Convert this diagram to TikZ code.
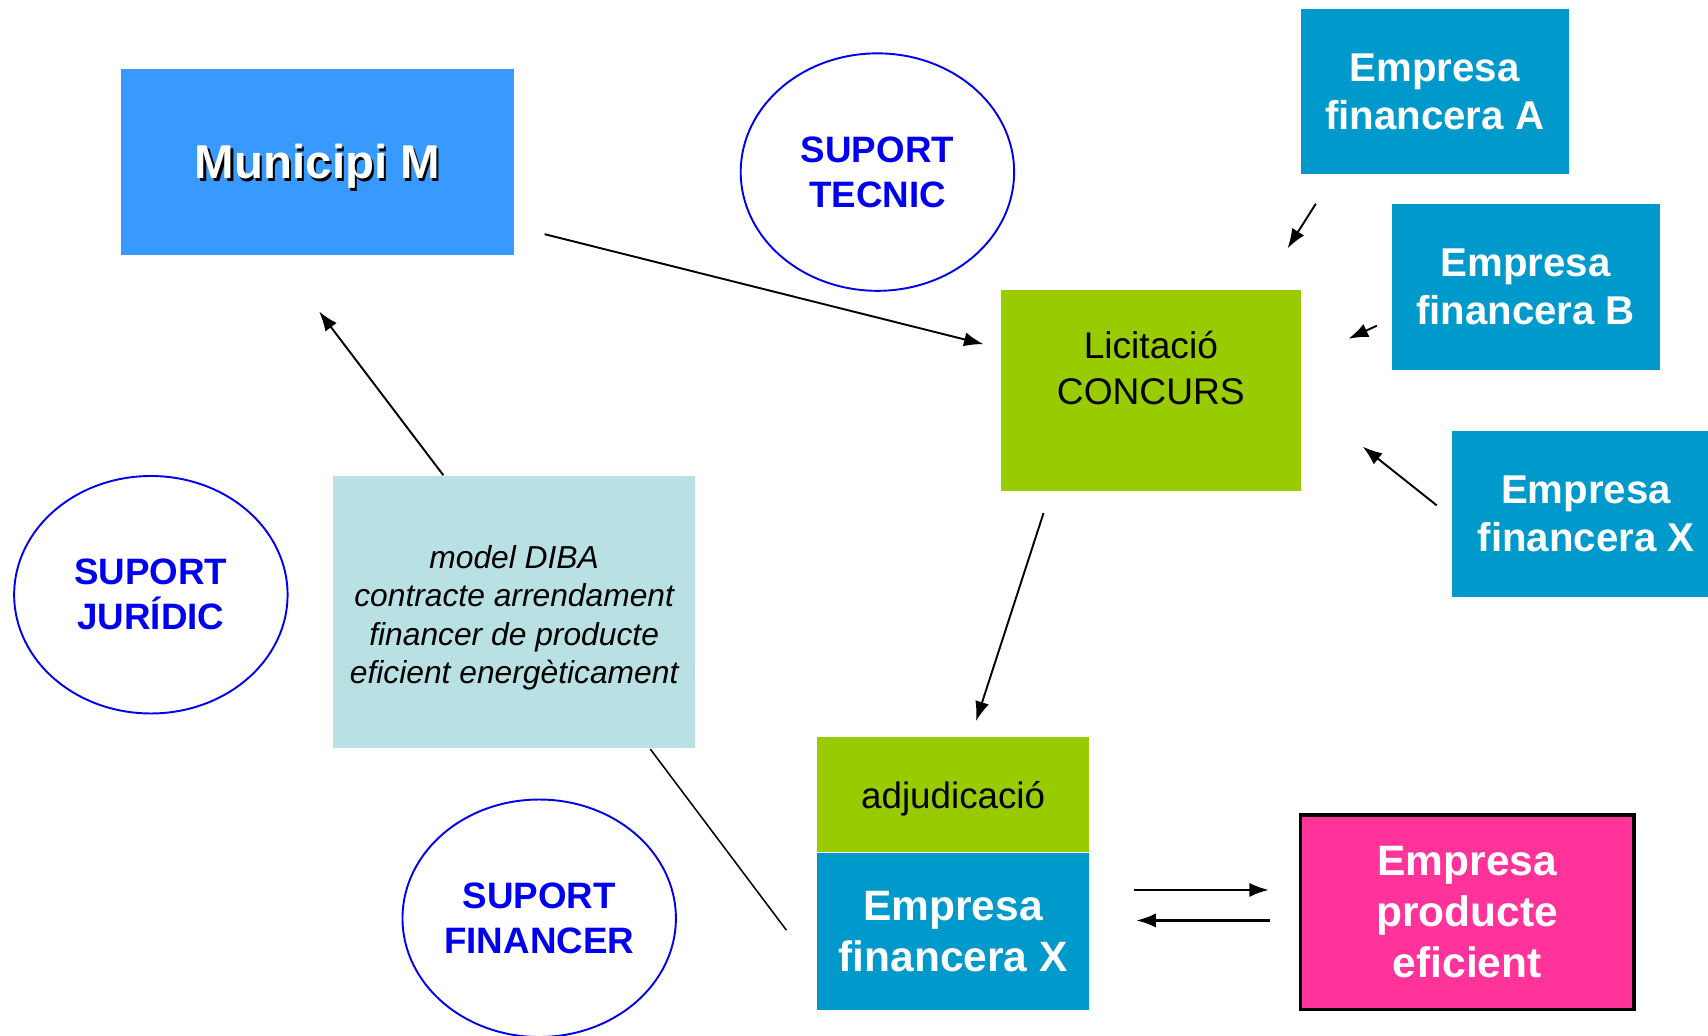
\documentclass[tikz,border=0pt]{standalone}
\usepackage{fontspec}
\setmainfont{Liberation Sans}
\usepackage{xcolor}
\usepackage{tikz}
\usetikzlibrary{shapes,arrows,positioning,calc,arrows.meta}

\definecolor{municipiblue}{RGB}{56,153,255}
\definecolor{empresablue}{RGB}{0,153,204}
\definecolor{licgreen}{RGB}{153,204,0}
\definecolor{modelteal}{RGB}{185,224,227}
\definecolor{productepink}{RGB}{255,51,153}
\definecolor{suportblue}{RGB}{0,0,238}

\newcommand{\shadowtxt}[1]{\rlap{\kern0.6pt\raisebox{-0.6pt}{\color{black}#1}}#1}

\begin{document}
\begin{tikzpicture}[y=-1cm,
    box/.style={rectangle, inner sep=0pt, align=center},
    empresa/.style={box, fill=empresablue, text=white, font=\bfseries\fontsize{10.5}{12.5}\selectfont, minimum width=2.46cm, minimum height=1.52cm},
    suport/.style={ellipse, draw=suportblue, line width=0.5pt, text=suportblue, font=\bfseries\fontsize{9.6}{11.7}\selectfont, minimum width=2.51cm, minimum height=2.18cm, inner sep=0pt, align=center},
    fletxa/.style={-{Latex[length=1.8mm,width=1.3mm]}, line width=0.5pt}]
    \clip (0,0) rectangle (15.68,9.51);

    % municipi i suports
    \node[box, fill=municipiblue, text=white, text depth=0pt, minimum width=3.61cm, minimum height=1.71cm, font=\bfseries\fontsize{12.4}{15}\selectfont] (muni) at (2.915,1.485) {\shadowtxt{Municipi M}};
    \node[suport] (tecnic) at (8.055,1.58) {SUPORT\\TECNIC};
    \node[suport] (juridic) at (1.385,5.46) {SUPORT\\JURÍDIC};
    \node[suport] (financer) at (4.95,8.43) {SUPORT\\FINANCER};

    % empreses financeres
    \node[empresa] (empA) at (13.17,0.84) {Empresa\\financera A};
    \node[empresa] (empB) at (14.005,2.635) {Empresa\\financera B};
    \node[empresa] (empX) at (14.56,4.72) {Empresa\\financera X};

    % licitacio i model
    \node[box, fill=licgreen, minimum width=2.75cm, minimum height=1.85cm, font=\fontsize{9.7}{12}\selectfont] (lic) at (10.565,3.585) {Licitació\\CONCURS\\\mbox{}};
    \node[box, fill=modelteal, minimum width=3.32cm, minimum height=2.5cm, font=\itshape\fontsize{8.3}{10}\selectfont] (model) at (4.72,5.62) {\rule{0pt}{9pt}model DIBA\\contracte arrendament\\financer de producte\\eficient energèticament};

    % adjudicacio
    \node[box, fill=licgreen, text depth=0pt, minimum width=2.5cm, minimum height=1.05cm, font=\fontsize{9.6}{12}\selectfont] (adj) at (8.75,7.295) {adjudicació};
    \node[empresa, below=0pt of adj, minimum width=2.5cm, minimum height=1.44cm, font=\bfseries\fontsize{11.1}{13.4}\selectfont] (empXadj) {Empresa\\financera X};
    \node[box, fill=productepink, draw=black, line width=0.9pt, text=white, minimum width=3.06cm, minimum height=1.79cm, font=\bfseries\fontsize{11.1}{13.4}\selectfont] (producte) at (13.47,8.375) {Empresa\\producte\\eficient};

    % extrems de les fletxes
    \coordinate (muniOut) at (5.00,2.15);
    \coordinate (licIn) at (9.03,3.16);
    \coordinate (modelOut) at ([xshift=-0.65cm]model.north);
    \coordinate (muniIn) at (2.93,2.86);
    \coordinate (licOut) at (9.58,4.71);
    \coordinate (adjIn) at (8.96,6.62);
    \coordinate (empAOut) at (12.08,1.87);
    \coordinate (licInA) at (11.82,2.28);
    \coordinate (empBOut) at (12.64,2.99);
    \coordinate (licInB) at (12.38,3.11);
    \coordinate (empXOut) at (13.19,4.64);
    \coordinate (licInX) at (12.51,4.10);
    \coordinate (modelLine) at ([xshift=1.25cm]model.south);
    \coordinate (empXLine) at (7.22,8.54);
    \coordinate (xTo) at (10.41,8.17);
    \coordinate (pIn) at (11.65,8.17);
    \coordinate (pFrom) at (11.66,8.45);
    \coordinate (xIn) at (10.43,8.45);

    \draw[fletxa] (muniOut) -- (licIn);
    \draw[fletxa] (modelOut) -- (muniIn);
    \draw[fletxa] (licOut) -- (adjIn);
    \draw[fletxa] (empAOut) -- (licInA);
    \draw[fletxa] (empBOut) -- (licInB);
    \draw[fletxa] (empXOut) -- (licInX);
    \draw[line width=0.4pt] (modelLine) -- (empXLine);
    \draw[fletxa, line width=0.7pt] (xTo) -- (pIn);
    \draw[fletxa, line width=0.7pt] (pFrom) -- (xIn);
\end{tikzpicture}
\end{document}
